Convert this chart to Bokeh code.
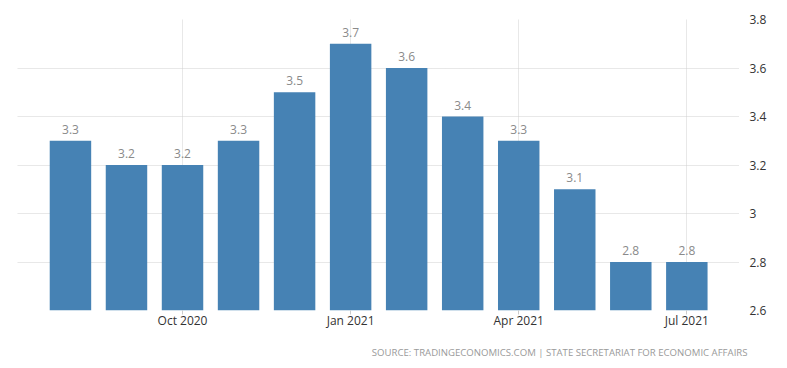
from bokeh.plotting import figure
from bokeh.models import ColumnDataSource, FixedTicker, Range1d, Title
from bokeh.core.properties import value
from bokeh.embed import file_html
from bokeh.resources import INLINE

months = ["Aug 2020", "Sep 2020", "Oct 2020", "Nov 2020", "Dec 2020", "Jan 2021",
          "Feb 2021", "Mar 2021", "Apr 2021", "May 2021", "Jun 2021", "Jul 2021"]
rates = [3.3, 3.2, 3.2, 3.3, 3.5, 3.7, 3.6, 3.4, 3.3, 3.1, 2.8, 2.8]
y_ticks = [2.6, 2.8, 3.0, 3.2, 3.4, 3.6, 3.8]
y_tick_labels = ["2.6", "2.8", "3", "3.2", "3.4", "3.6", "3.8"]
x_tick_months = ["Oct 2020", "Jan 2021", "Apr 2021", "Jul 2021"]
source_text = "SOURCE: TRADINGECONOMICS.COM | STATE SECRETARIAT FOR ECONOMIC AFFAIRS"

idx = list(range(len(months)))
src = ColumnDataSource(dict(x=idx, y=rates, label=[f"{v:g}" for v in rates]))

FONT = "Open Sans"

p = figure(frame_width=722, frame_height=291, output_backend="svg", toolbar_location=None,
           y_axis_location="right", x_range=Range1d(-0.945, 11.94), y_range=Range1d(2.6, 3.8),
           min_border_left=17, min_border_top=19, min_border_bottom=0, min_border_right=10)
p.outline_line_color = None
p.background_fill_color = "white"
p.border_fill_color = "white"

p.vbar(x="x", top="y", bottom=2.6, width=0.74, source=src, fill_color="#4682b4", line_color=None)
p.text(x="x", y="y", text="label", source=src, text_align="center", text_baseline="bottom",
       y_offset=-7, text_font=value(FONT), text_font_size="12px", text_color="#8a8a8a")

x_tick_pos = [months.index(m) for m in x_tick_months]
p.xaxis.ticker = FixedTicker(ticks=x_tick_pos)
p.xaxis.major_label_overrides = {i: m for i, m in zip(x_tick_pos, x_tick_months)}
p.xaxis.axis_line_color = None
p.xaxis.major_tick_line_color = "#cccccc"
p.xaxis.major_tick_in = 0
p.xaxis.major_tick_out = 4
p.xaxis.minor_tick_line_color = None
p.xaxis.major_label_standoff = -3
p.xaxis.major_label_text_font = FONT
p.xaxis.major_label_text_font_size = "12px"
p.xaxis.major_label_text_color = "#333333"

p.yaxis.ticker = FixedTicker(ticks=y_ticks)
p.yaxis.major_label_overrides = {t: l for t, l in zip(y_ticks, y_tick_labels)}
p.yaxis.axis_line_color = None
p.yaxis.major_tick_line_color = None
p.yaxis.minor_tick_line_color = None
p.yaxis.major_label_standoff = 4
p.yaxis.major_label_text_font = FONT
p.yaxis.major_label_text_font_size = "12px"
p.yaxis.major_label_text_color = "#333333"

for g in (p.xgrid, p.ygrid):
    g.grid_line_color = "#d0d0d0"
    g.grid_line_dash = "1 1"
    g.grid_line_width = 1

t = Title(text=source_text, align="right", text_font=FONT, text_font_size="9.6px",
          text_font_style="normal", text_color="#9a9a9a", offset=-8, standoff=24)
p.add_layout(t, "below")

open("out.html", "w").write(file_html(p, INLINE))
